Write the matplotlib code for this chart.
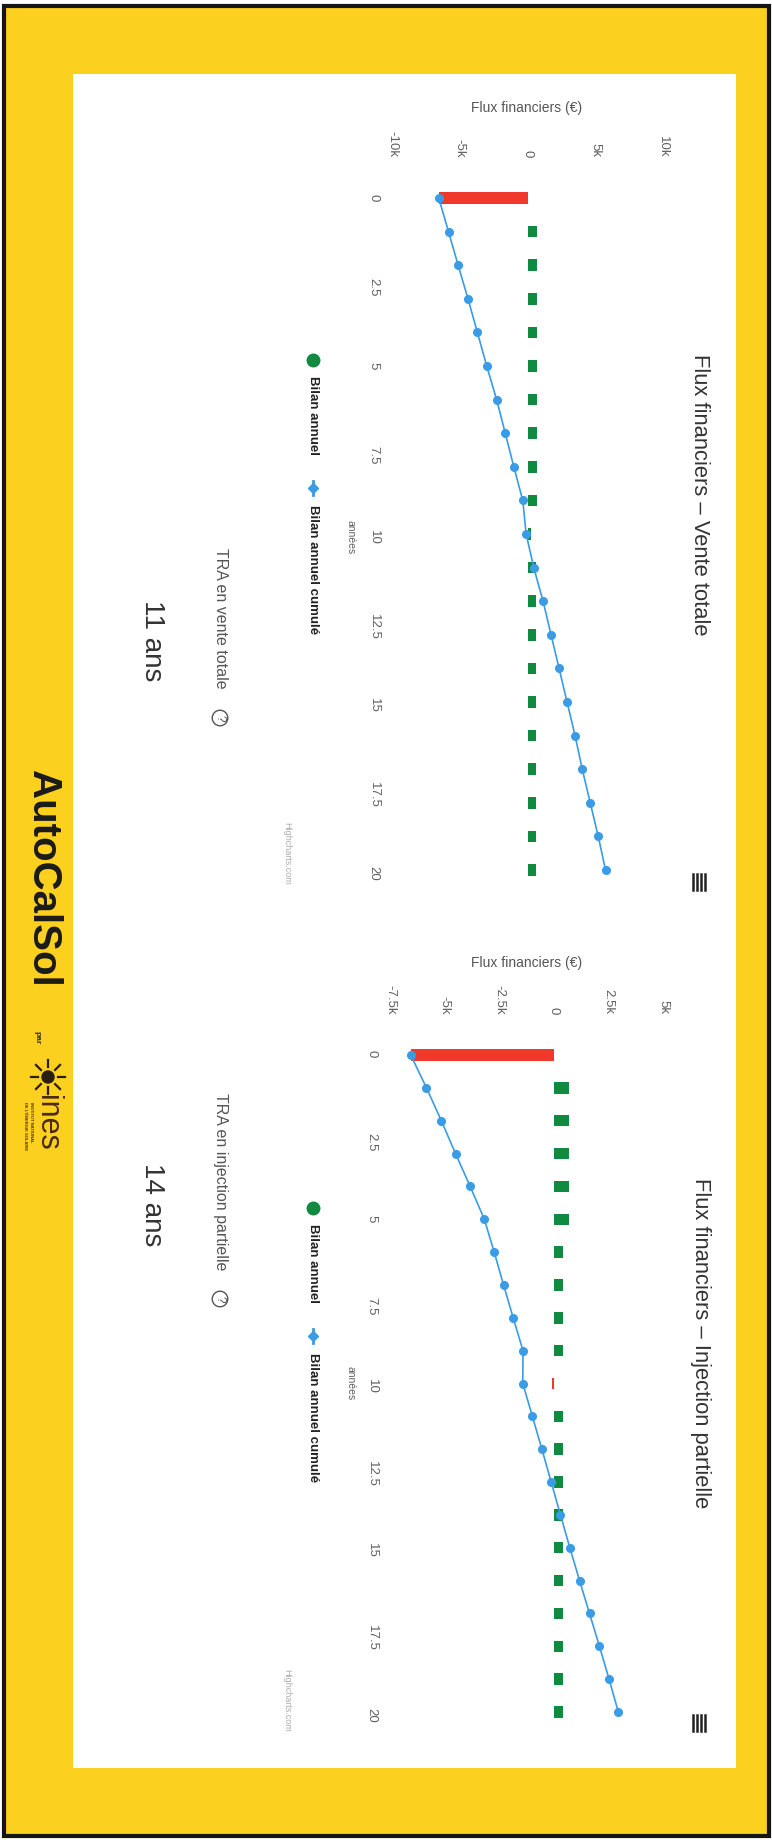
import numpy as np
import matplotlib
matplotlib.use("Agg")
import matplotlib.pyplot as plt
from matplotlib.patches import Rectangle, Circle

plt.rcParams['font.family'] = ['Liberation Sans', 'DejaVu Sans']

# donnees (euros par annee)
years = list(range(21))
year_ticks = [0, 2.5, 5, 7.5, 10, 12.5, 15, 17.5, 20]
year_labels = ["0", "2.5", "5", "7.5", "10", "12.5", "15", "17.5", "20"]

vente_annuel = [-6550, 720, 720, 720, 720, 720, 720, 720, 720, 720, 250,
                640, 640, 640, 640, 640, 640, 640, 640, 640, 640]
vente_cumul = [-6550, -5830, -5120, -4390, -3700, -3010, -2280, -1640, -1010, -350, -100,
               460, 1150, 1740, 2330, 2920, 3510, 4040, 4630, 5220, 5760]
vente_ticks = [-10000, -5000, 0, 5000, 10000]
vente_labels = ["-10k", "-5k", "0", "5k", "10k"]

injection_annuel = [-6550, 680, 680, 680, 680, 680, 440, 440, 440, 440, -70,
                    430, 430, 430, 430, 430, 420, 420, 420, 420, 420]
injection_cumul = [-6550, -5830, -5150, -4500, -3830, -3180, -2730, -2300, -1860, -1410, -1420,
                   -980, -545, -120, 305, 735, 1180, 1635, 2090, 2530, 2955]
injection_ticks = [-7500, -5000, -2500, 0, 2500, 5000]
injection_labels = ["-7.5k", "-5k", "-2.5k", "0", "2.5k", "5k"]

tra_vente = "11 ans"
tra_injection = "14 ans"

GREEN = '#0f8a3f'
RED = '#f0392c'
BLUE = '#3a9be6'
YELLOW = '#fcd01f'

W, H = 772, 1842
fig = plt.figure(figsize=(W / 100, H / 100), dpi=100)

# fond : cadre jaune + panneau blanc, en coordonnees pixels
bg = fig.add_axes([0, 0, 1, 1])
bg.set_xlim(0, W)
bg.set_ylim(H, 0)
bg.axis('off')
bg.add_patch(Rectangle((0, 0), W, H, color='white'))
bg.add_patch(Rectangle((4, 6), 765, 1830, facecolor=YELLOW, edgecolor='#151515', lw=3))
bg.add_patch(Rectangle((73, 74), 663, 1694, facecolor='white', edgecolor='none'))


def px_axes(left, top, right, bottom):
    return fig.add_axes([left / W, 1 - bottom / H, (right - left) / W, (bottom - top) / H])


def draw_chart(x_left, x_right, y0, y20, vmin, vmax, ticks, labels, annuel, cumul):
    pad = 0.6
    ppy = (y20 - y0) / 20
    ax = px_axes(x_left, y0 - pad * ppy, x_right, y20 + pad * ppy)
    ax.set_xlim(vmin, vmax)
    ax.set_ylim(20 + pad, -pad)
    ax.set_facecolor('none')
    colors = [GREEN if v >= 0 else RED for v in annuel]
    ax.barh(years, annuel, height=0.35, color=colors, zorder=2)
    ax.plot(cumul, years, color=BLUE, lw=1.2, marker='o', ms=5.5, zorder=3)
    for s in ax.spines.values():
        s.set_visible(False)
    ax.xaxis.tick_top()
    ax.set_xticks(ticks)
    ax.set_xticklabels(labels)
    ax.tick_params(axis='x', length=0, pad=15, labelrotation=-90,
                   labelcolor='#606060', labelsize=9.5)
    ax.set_yticks(year_ticks)
    ax.set_yticklabels(year_labels)
    ax.tick_params(axis='y', length=0, pad=9, labelrotation=-90,
                   labelcolor='#606060', labelsize=9.5)
    return ax


draw_chart(392, 663, 198, 870, -10000, 10000, vente_ticks, vente_labels,
           vente_annuel, vente_cumul)
draw_chart(390, 663, 1055, 1712, -7500, 5000, injection_ticks, injection_labels,
           injection_annuel, injection_cumul)


def chart_texts(title, title_y, axis_y, annees_y, leg_y, credit_y, menu_y):
    bg.text(700, title_y, title, rotation=-90, ha='center', va='center',
            fontsize=15.8, color='#333333')
    bg.text(527, axis_y, "Flux financiers (€)", ha='center', va='center',
            fontsize=10, color='#555555')
    bg.text(351, annees_y, "années", rotation=-90, ha='center', va='center',
            fontsize=7.5, color='#606060')
    # legende
    bg.plot(313, leg_y, 'o', color=GREEN, ms=9)
    bg.text(313, leg_y + 16, "Bilan annuel", rotation=-90, ha='center', va='top',
            fontsize=9.5, fontweight='bold', color='#222222')
    bg.plot([313, 313], [leg_y + 121, leg_y + 135], color=BLUE, lw=2)
    bg.plot(313, leg_y + 128, 'D', color=BLUE, ms=5)
    bg.text(313, leg_y + 145, "Bilan annuel cumulé", rotation=-90, ha='center', va='top',
            fontsize=9.5, fontweight='bold', color='#222222')
    bg.text(287, credit_y, "Highcharts.com", rotation=-90, ha='center', va='center',
            fontsize=6.5, color='#aaaaaa')
    for dx in (-6, -2, 2, 6):
        bg.plot([699 + dx, 699 + dx], [menu_y - 8, menu_y + 8], color='#222222', lw=1.8)


chart_texts("Flux financiers – Vente totale", 495, 108, 537, 360, 853, 882)
chart_texts("Flux financiers – Injection partielle", 1343, 963, 1383, 1208, 1700, 1723)

# temps de retour
for label, y_start, y_q, y_ans, ans in [("TRA en vente totale", 548, 718, 641, tra_vente),
                                        ("TRA en injection partielle", 1093, 1299, 1205, tra_injection)]:
    bg.text(220, y_start, label, rotation=-90, ha='center', va='top',
            fontsize=11.5, color='#555555')
    bg.text(220, y_q, "?", rotation=-90, ha='center', va='center', fontsize=8.5,
            color='#555555', bbox=dict(boxstyle='circle,pad=0.15', fc='white', ec='#555555', lw=1))
    bg.text(152, y_ans, ans, rotation=-90, ha='center', va='center',
            fontsize=20, color='#333333')

# logo AutoCalSol par ines
bg.text(43, 878, "AutoCalSol", rotation=-90, ha='center', va='center',
        fontsize=29, fontweight='bold', color='#1a1a1a')
bg.text(37, 1038, "par", rotation=-90, ha='center', va='center',
        fontsize=6, fontweight='bold', color='#2a2a2a')
bg.add_patch(Circle((48, 1077), 6, color='#2a1d12'))
for a in np.linspace(0, 2 * np.pi, 9)[:-1]:
    bg.plot([48 + 10 * np.cos(a), 48 + 17 * np.cos(a)],
            [1077 + 10 * np.sin(a), 1077 + 17 * np.sin(a)], color='#2a1d12', lw=1.6)
bg.text(47, 1123, "ines", rotation=-90, ha='center', va='center',
        fontsize=22, color='#4a2a10')
bg.text(31, 1102, "INSTITUT NATIONAL", rotation=-90, ha='center', va='top',
        fontsize=3, fontweight='bold', color='#5a3010')
bg.text(25, 1102, "DE L'ÉNERGIE SOLAIRE", rotation=-90, ha='center', va='top',
        fontsize=3, fontweight='bold', color='#5a3010')

fig.savefig("out.png", dpi=100)
